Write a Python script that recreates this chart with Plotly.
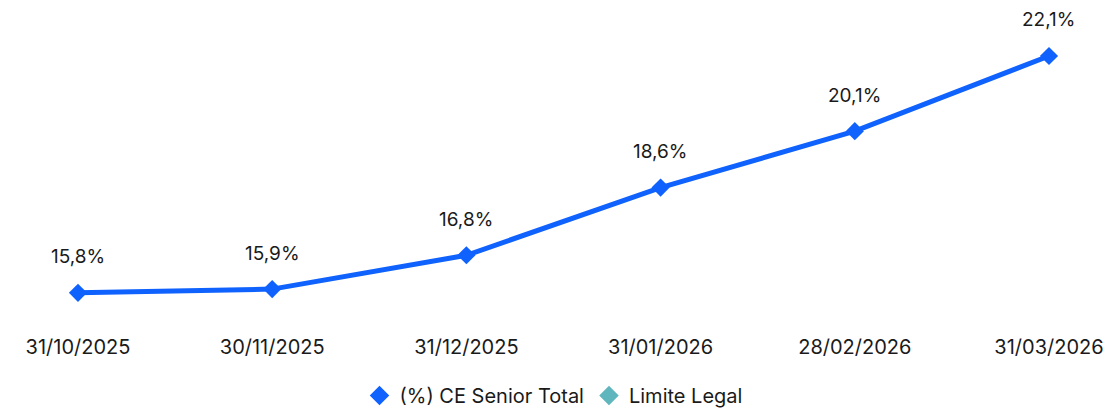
import plotly.graph_objects as go

dates = ["31/10/2025", "30/11/2025", "31/12/2025", "31/01/2026", "28/02/2026", "31/03/2026"]
ce_senior = [15.8, 15.9, 16.8, 18.6, 20.1, 22.1]
series_names = ["(%) CE Senior Total", "Limite Legal"]

BLUE = "#0f62fe"
TEAL = "#5fb6bd"
FONT = "Inter, Arial, sans-serif"
TXT = "#1a1a1a"

fig = go.Figure()
fig.add_trace(go.Scatter(
    x=list(range(len(dates))), y=ce_senior, mode="lines+markers",
    line=dict(color=BLUE, width=5), marker=dict(symbol="diamond", size=14, color=BLUE),
    showlegend=False, legendgroup="ce", hoverinfo="skip"))
fig.add_trace(go.Scatter(x=[None], y=[None], mode="markers", name=series_names[0],
                         marker=dict(symbol="diamond", size=15, color=BLUE), legendgroup="ce"))
fig.add_trace(go.Scatter(x=[None], y=[None], mode="markers", name=series_names[1],
                         marker=dict(symbol="diamond", size=15, color=TEAL)))

for i, v in enumerate(ce_senior):
    fig.add_annotation(x=i, y=v, text=f"{v:.1f}%".replace(".", ","), showarrow=False,
                       yshift=36, font=dict(family=FONT, size=19, color=TXT))

fig.update_layout(
    width=1107, height=408,
    margin=dict(l=0, r=0, t=0, b=88, autoexpand=False),
    paper_bgcolor="white", plot_bgcolor="white",
    font=dict(family=FONT, size=20, color=TXT),
    xaxis=dict(range=[-0.4016, 5.2987], tickmode="array", tickvals=list(range(len(dates))),
               ticktext=dates, showgrid=False, zeroline=False, showline=False,
               ticks="outside", ticklen=9, tickcolor="rgba(0,0,0,0)", automargin=False,
               tickfont=dict(family=FONT, size=20, color=TXT)),
    yaxis=dict(range=[15.078, 23.589], visible=False, automargin=False),
    legend=dict(orientation="h", x=0.5, xanchor="center", y=-0.236, yanchor="middle",
                font=dict(family=FONT, size=20, color=TXT), itemwidth=30,
                tracegroupgap=0),
    hovermode=False,
)
fig.write_html("out.html", config={"displayModeBar": False},
               post_script="document.body.style.margin='0';document.body.style.padding='0';")
